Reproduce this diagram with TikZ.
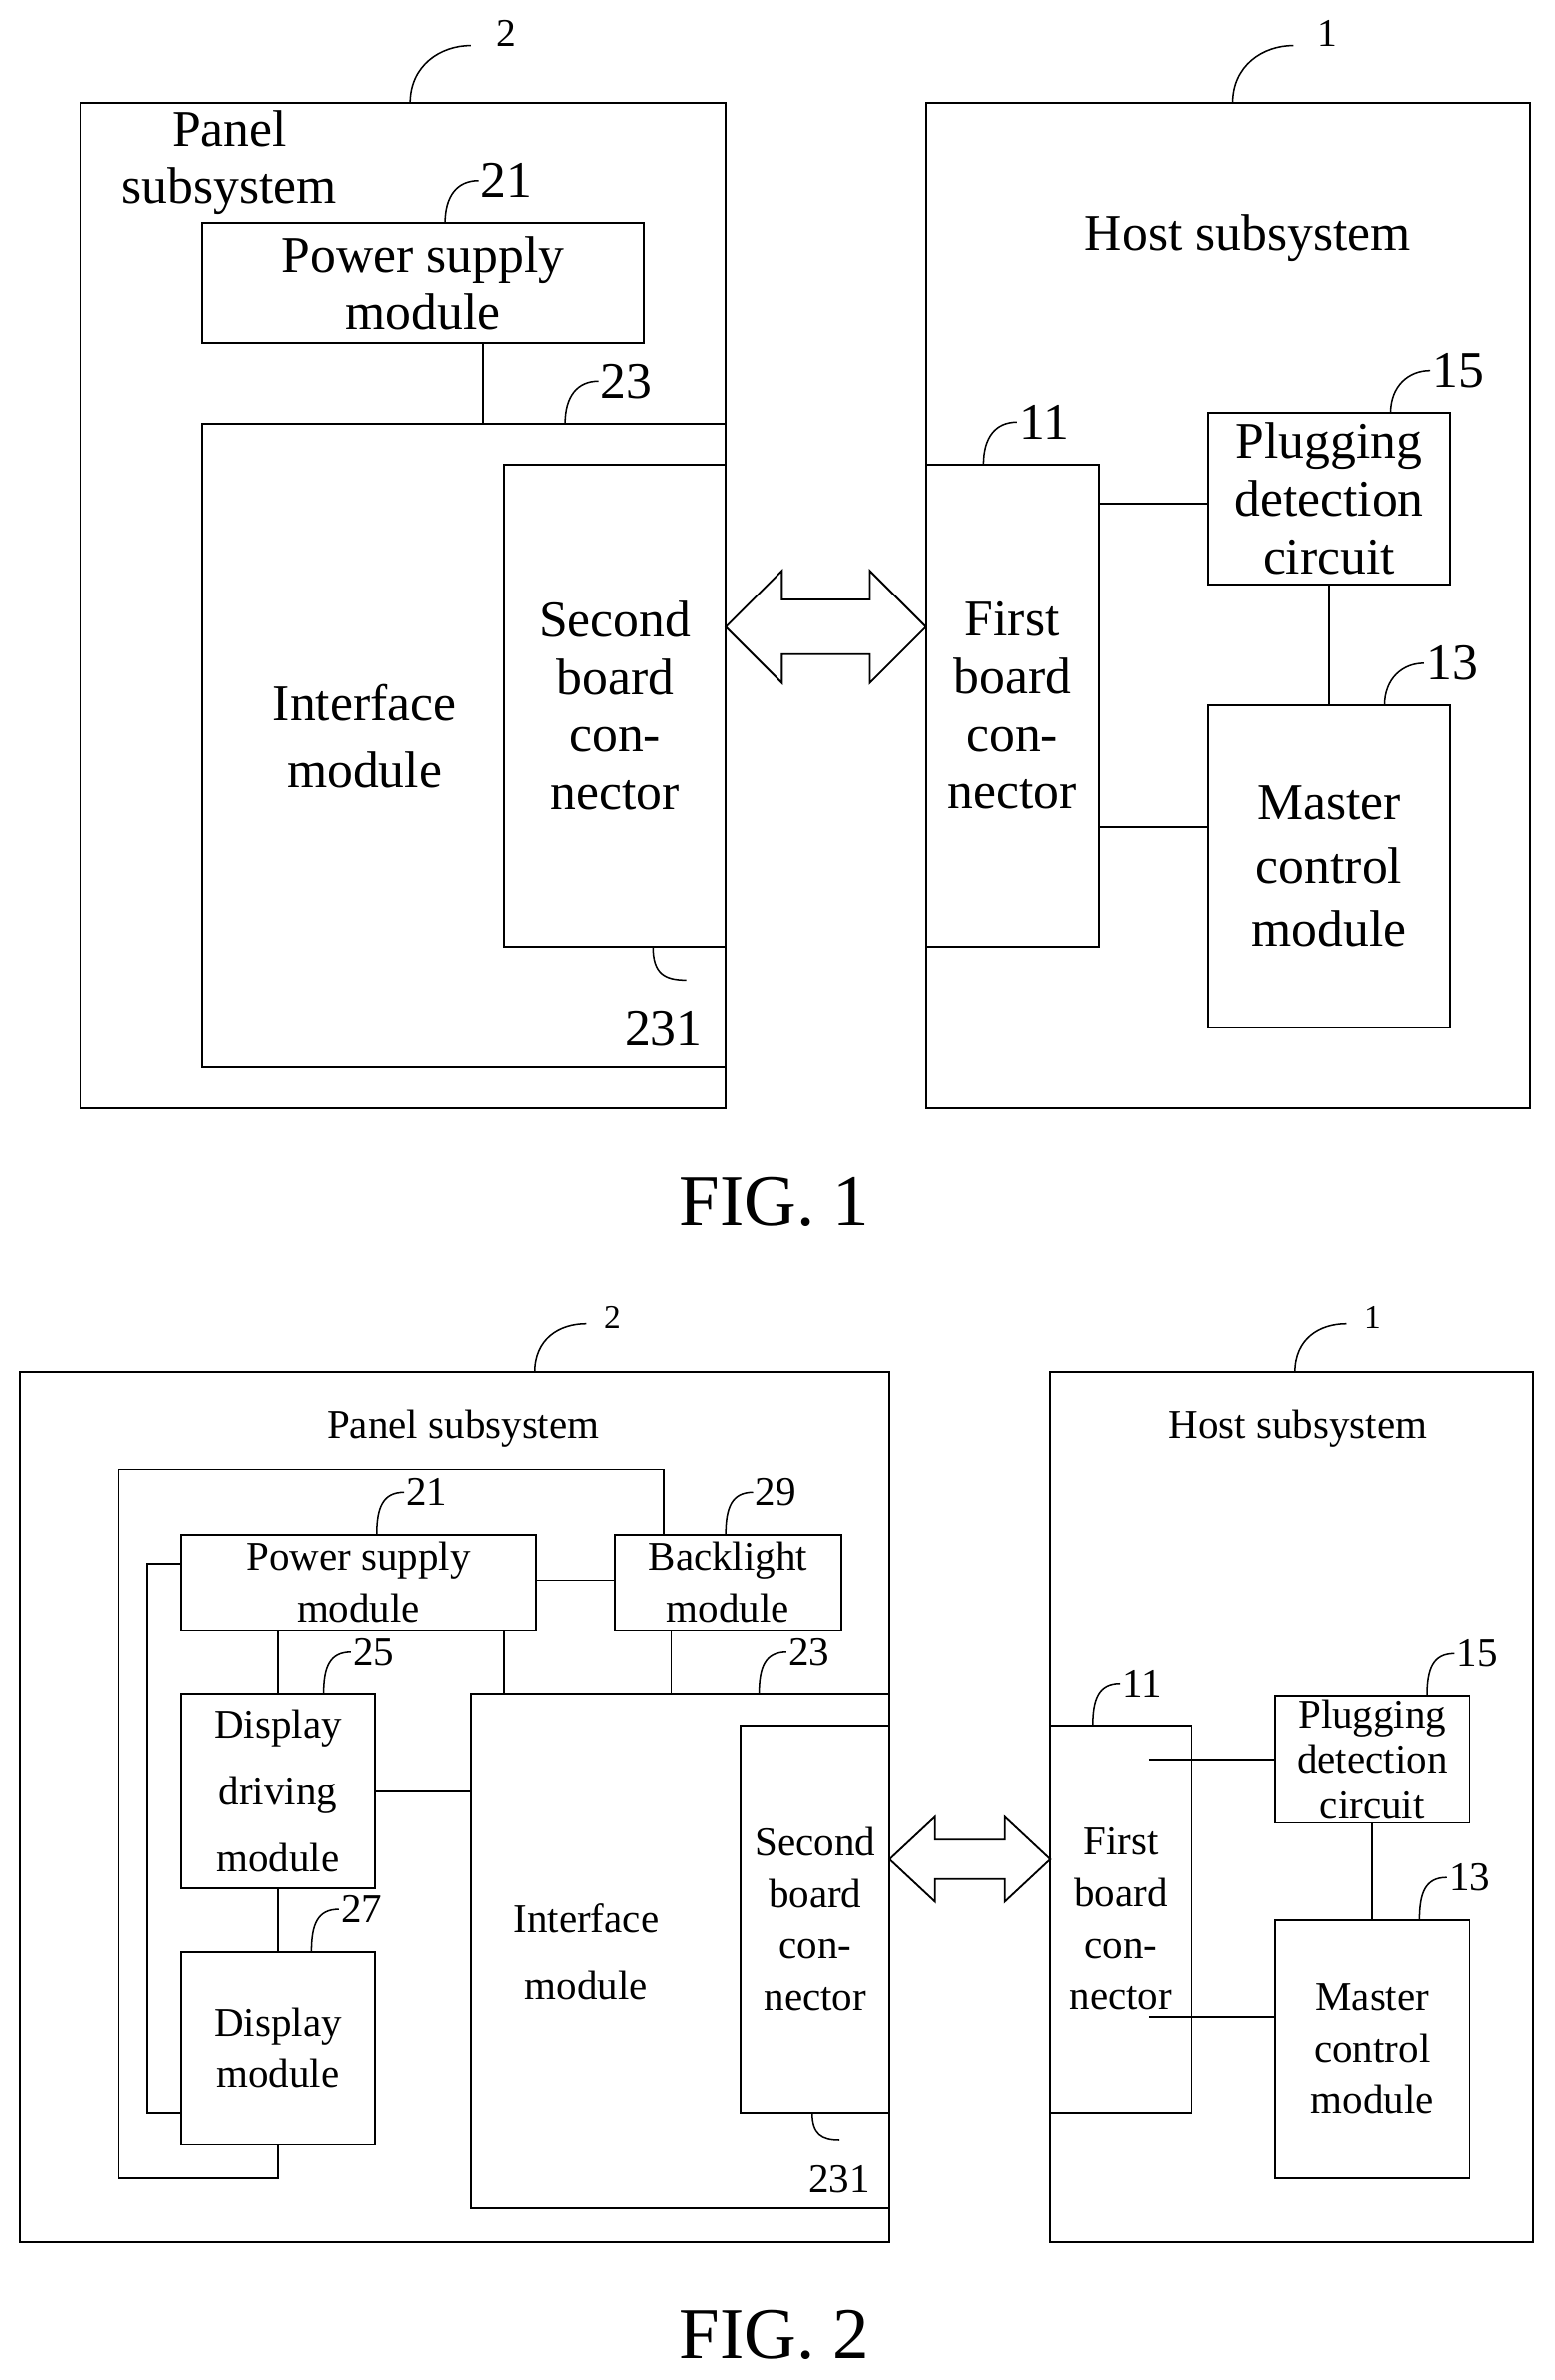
\documentclass[tikz,border=0pt]{standalone}
\usepackage{fontspec}
\setmainfont{Liberation Serif}
\begin{document}
\begin{tikzpicture}[x=1pt,y=-1pt,line width=1.2pt,
 box/.style={draw,inner sep=0pt,outer sep=0pt,align=center},
 fa/.style={font=\fontsize{34}{38}\selectfont},
 fb/.style={font=\fontsize{27}{34}\selectfont},
 lead/.style={line width=1pt},
 lab/.style={anchor=west,inner sep=1pt}]
\useasboundingbox (0,0) rectangle (1024,1568);
\newcommand\bx[7][]{\node[box,#1,minimum width={(#5-#3)*1pt},minimum height={(#6-#4)*1pt}] (#2) at ({(#3+#5)/2},{(#4+#6)/2}) {#7};}
\newcommand\ld[6][fa]{\coordinate (#2) at (#3,#4);\draw[lead] (#2) .. controls +(0,-18) and +(-14,0) .. +(#5,-28) node[lab,#1] {#6};}
% ---------- FIG 1 ----------
\bx{panelA}{53}{68}{478}{730}{}
\draw[lead] (270,68) .. controls +(0,-25) and +(-20,0) .. (310,30) coordinate (e2);
\node[lab,font=\fontsize{26}{28}\selectfont] (l2A) at (325,22) {2};
\node[fa,align=center] (pstA) at (151,107) {Panel\\subsystem};
\bx[fa]{psA}{133}{147}{424}{226}{Power supply\\module}
\ld{la21}{293}{147}{22}{21}
\bx{ifA}{133}{279}{478}{703}{}
\ld{la23}{372}{279}{22}{23}
\node[fa,align=center] (iftA) at (240,485) {Interface\\[6pt]module};
\bx[fa]{sbA}{332}{306}{478}{624}{Second\\board\\con-\\nector}
\draw[lead] (430,624) .. controls +(0,18) and +(-14,0) .. (452,646);
\node[fa] (l231A) at (437,678) {231};
\draw (psA.south -| 318,0) -- (ifA.north -| 318,0);
\draw (478,413) -- (515,376) -- (515,395) -- (573,395) -- (573,376) -- (610,413) -- (573,450) -- (573,431) -- (515,431) -- (515,450) -- cycle;
\bx{hostA}{610}{68}{1008}{730}{}
\draw[lead] (812,68) .. controls +(0,-25) and +(-20,0) .. (852,30);
\node[lab,font=\fontsize{26}{28}\selectfont] (l1A) at (866,22) {1};
\node[fa] (hstA) at (822,157) {Host subsystem};
\bx[fa]{fbA}{610}{306}{724}{624}{First\\board\\con-\\nector}
\ld{la11}{648}{306}{22}{11}
\bx[fa]{pdA}{796}{272}{955}{385}{Plugging\\detection\\circuit}
\ld{la15}{916}{272}{26}{15}
\bx[fa]{mcA}{796}{465}{955}{677}{Master\\[4pt]control\\[4pt]module}
\ld{la13}{912}{465}{26}{13}
\draw (fbA.east |- 0,332) -- (pdA.west |- 0,332);
\draw (fbA.east |- 0,545) -- (mcA.west |- 0,545);
\draw (pdA.south) -- (mcA.north);
\node[font=\fontsize{48}{50}\selectfont] (figA) at (510,792) {FIG. 1};
% ---------- FIG 2 ----------
\bx{panelB}{13}{904}{586}{1477}{}
\draw[lead] (352,904) .. controls +(0,-22) and +(-18,0) .. (386,872);
\node[lab,font=\fontsize{22}{24}\selectfont] (l2B) at (396,868) {2};
\node[fb] (pstB) at (305,941) {Panel subsystem};
\bx[fb]{psB}{119}{1011}{353}{1074}{Power supply\\module}
\ld[fb]{lb21}{248}{1011}{18}{21}
\bx[fb]{blB}{405}{1011}{554}{1074}{Backlight\\module}
\ld[fb]{lb29}{478}{1011}{18}{29}
\bx[fb]{ddB}{119}{1116}{247}{1244}{Display\\[10pt]driving\\[10pt]module}
\ld[fb]{lb25}{213}{1116}{18}{25}
\bx[fb]{dmB}{119}{1286}{247}{1413}{Display\\module}
\ld[fb]{lb27}{205}{1286}{18}{27}
\bx{ifB}{310}{1116}{586}{1455}{}
\ld[fb]{lb23}{500}{1116}{18}{23}
\node[fb,align=center] (iftB) at (386,1286) {Interface\\[10pt]module};
\bx[fb]{sbB}{488}{1137}{586}{1392}{Second\\board\\con-\\nector}
\draw[lead] (535,1392) .. controls +(0,14) and +(-12,0) .. (553,1410);
\node[fb] (l231B) at (553,1436) {231};
\draw (blB.north -| 437,0) -- (437,968) -- (78,968) -- (78,1435) -- (183,1435) -- (dmB.south -| 183,0);
\draw (psB.west |- 0,1030) -- (97,1030) -- (97,1392) -- (dmB.west |- 0,1392);
\draw (psB.east |- 0,1041) -- (blB.west |- 0,1041);
\draw (psB.south -| 332,0) -- (ifB.north -| 332,0);
\draw (blB.south -| 442,0) -- (ifB.north -| 442,0);
\draw (psB.south -| 183,0) -- (ddB.north -| 183,0);
\draw (ddB.south -| 183,0) -- (dmB.north -| 183,0);
\draw (ddB.east |- 0,1180) -- (ifB.west |- 0,1180);
\draw (586,1225) -- (616,1197) -- (616,1212) -- (662,1212) -- (662,1197) -- (692,1225) -- (662,1253) -- (662,1238) -- (616,1238) -- (616,1253) -- cycle;
\bx{hostB}{692}{904}{1010}{1477}{}
\draw[lead] (853,904) .. controls +(0,-22) and +(-18,0) .. (887,872);
\node[lab,font=\fontsize{22}{24}\selectfont] (l1B) at (897,868) {1};
\node[fb] (hstB) at (855,941) {Host subsystem};
\bx[fb]{fbB}{692}{1137}{785}{1392}{First\\board\\con-\\nector}
\ld[fb]{lb11}{720}{1137}{18}{11}
\bx[fb,font=\fontsize{27}{30}\selectfont]{pdB}{840}{1117}{968}{1201}{Plugging\\detection\\circuit}
\ld[fb]{lb15}{940}{1117}{18}{15}
\bx[fb]{mcB}{840}{1265}{968}{1435}{Master\\control\\module}
\ld[fb]{lb13}{935}{1265}{18}{13}
\coordinate (c1) at (757,1159); \coordinate (c2) at (757,1329);
\draw (c1) -- (pdB.west |- c1);
\draw (c2) -- (mcB.west |- c2);
\draw (pdB.south) -- (mcB.north);
\node[font=\fontsize{48}{50}\selectfont] (figB) at (510,1538) {FIG. 2};
\end{tikzpicture}
\end{document}
